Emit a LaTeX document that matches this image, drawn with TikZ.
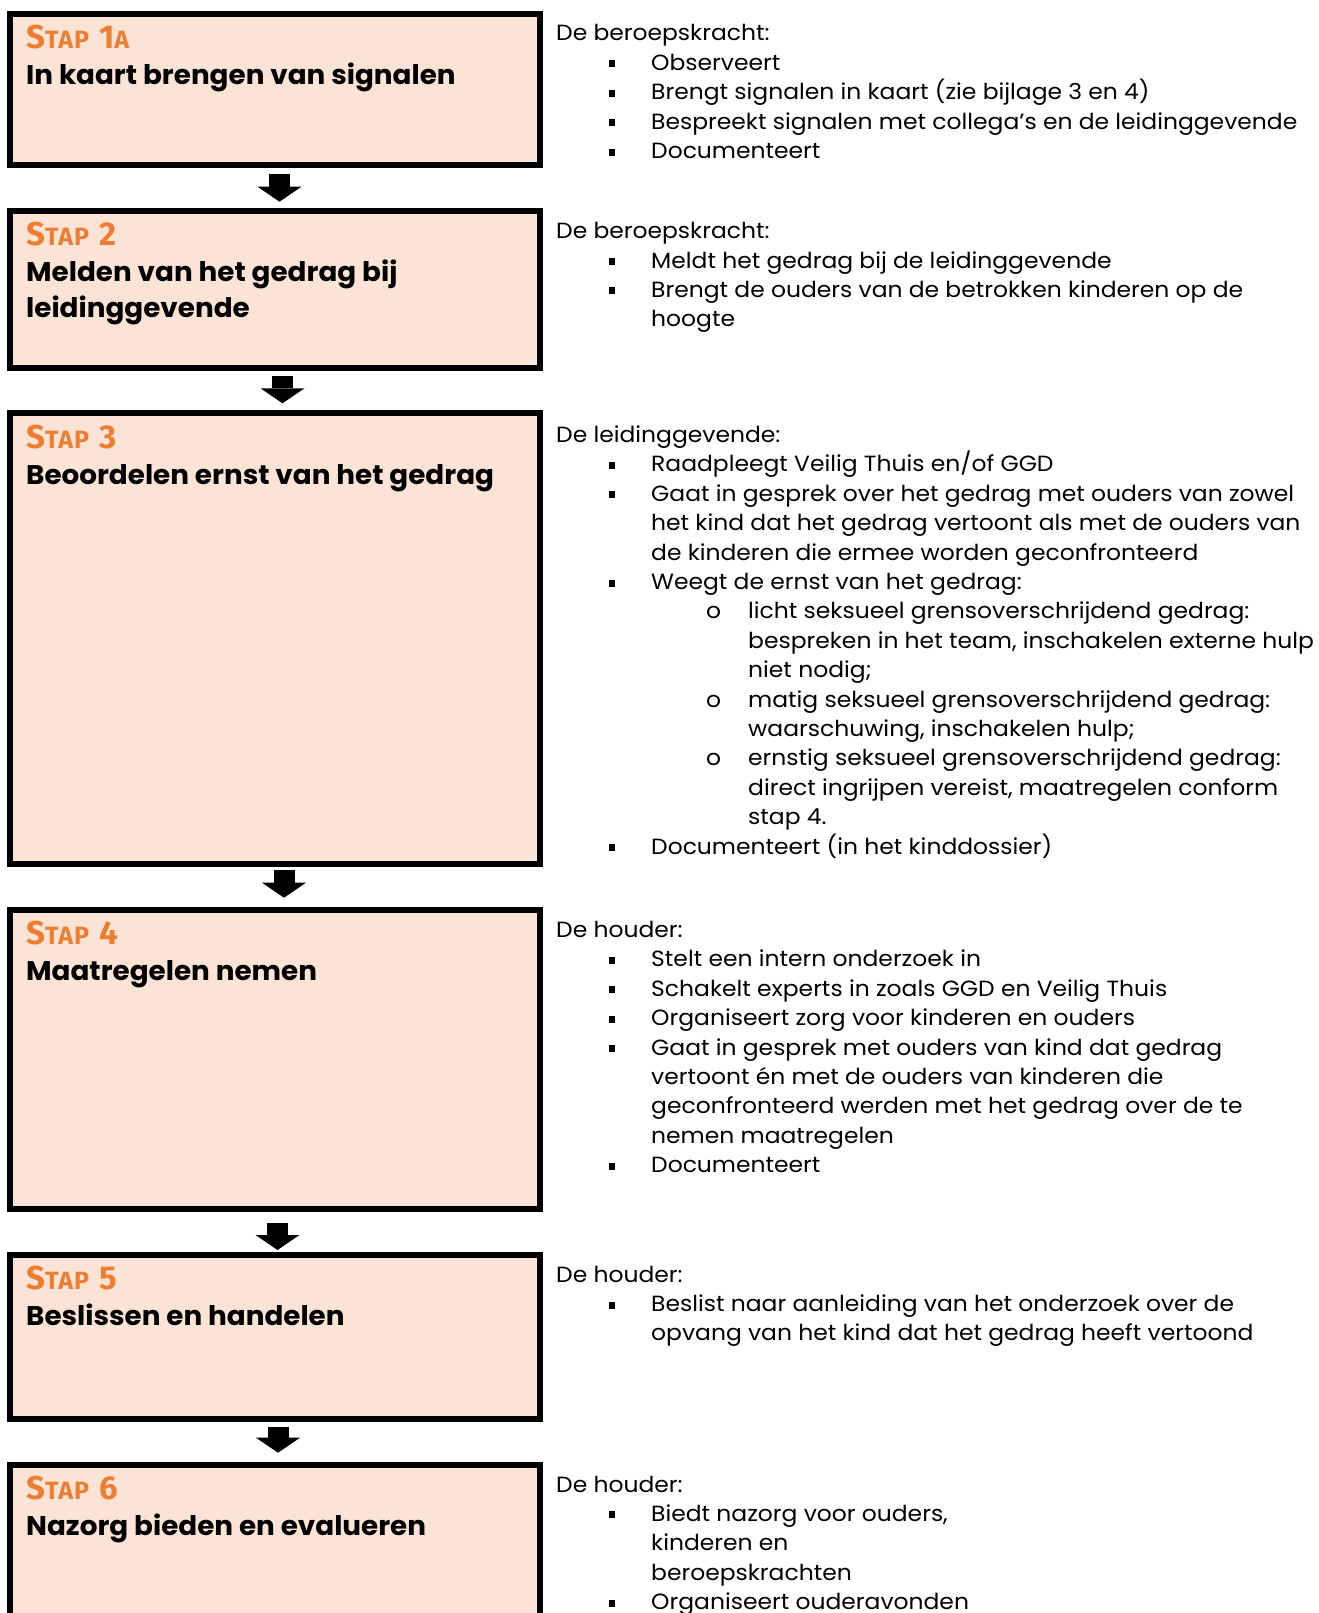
\documentclass[tikz,border=0pt]{standalone}
\usepackage{fontspec}
\setmainfont{Poppins}
\newfontfamily\stapfont{Fira Sans}[LetterSpace=4]
\newfontfamily\kolomfont{Poppins}[FakeStretch=1.065]
\newfontfamily\kopfont{Poppins}[FakeStretch=1.03]
\usetikzlibrary{arrows.meta}

\definecolor{staporanje}{RGB}{237,125,49}
\definecolor{stapvul}{RGB}{251,228,213}

% kapitalen voor de stapkoppen
\newcommand{\groot}[1]{{\fontsize{33}{33}\selectfont #1}}
\newcommand{\klein}[1]{{\fontsize{25}{33}\selectfont #1}}
\newcommand{\stap}[1]{\groot{S}\klein{TAP}\hspace{10pt}#1}
% opsomming rechts
\newcommand{\blt}{\hspace*{53pt}\makebox[42pt][l]{\rule[3pt]{6pt}{7pt}}}
\newcommand{\ver}{\hspace*{95pt}}
\newcommand{\subblt}{\hspace*{150pt}\makebox[42pt][l]{o}}
\newcommand{\subver}{\hspace*{192pt}}
\newcommand{\kolom}[1]{\begin{minipage}[t]{1000pt}\raggedright\kolomfont\fontsize{22}{29.4}\selectfont #1\end{minipage}}
\newcommand{\kop}[1]{\begin{minipage}[t]{505pt}\raggedright\kopfont\fontsize{27}{36}\selectfont\bfseries #1\end{minipage}}

\begin{document}
\begin{tikzpicture}[x=1pt,y=-1pt,
    stapbox/.style={draw,line width=6pt,fill=stapvul,minimum width=529.7pt,inner sep=0pt,outer sep=0pt},
    stapkop/.style={anchor=base west,inner sep=0pt,text=staporanje,font=\stapfont\bfseries\fontsize{25}{33}\selectfont},
    titel/.style={anchor=base west,inner sep=0pt},
    uitleg/.style={anchor=base west,inner sep=0pt},
    pijl/.style={line width=21pt,-{Triangle[width=44pt,length=15pt,line width=0pt]}}]
    \useasboundingbox (0,0) rectangle (1318,1613);

    % stap 1a
    \node [stapbox,minimum height=151.6pt] (s1) at (274.85,89.5) {};
    \node [stapkop] (k1) at (26,48.5) {\stap{\groot{1}\klein{A}}};
    \node [titel] (t1) at (26,84.5) {\kop{In kaart brengen van signalen}};
    \node [uitleg] (u1) at (556,41) {\kolom{De beroepskracht:\\
        \blt Observeert\\
        \blt Brengt signalen in kaart (zie bijlage 3 en 4)\\
        \blt Bespreekt signalen met collega’s en de leidinggevende\\
        \blt Documenteert}};

    % stap 2
    \node [stapbox,minimum height=157.3pt] (s2) at (274.85,289.35) {};
    \node [stapkop] (k2) at (26,245.5) {\stap{\groot{2}}};
    \node [titel] (t2) at (26,281.5) {\kop{Melden van het gedrag bij\\leidinggevende}};
    \node [uitleg] (u2) at (556,238.7) {\kolom{De beroepskracht:\\
        \blt Meldt het gedrag bij de leidinggevende\\
        \blt Brengt de ouders van de betrokken kinderen op de\\
        \ver hoogte}};
    \draw [pijl] ([xshift=4.65pt,yshift=-9pt]s1.south) -- ([xshift=4.65pt,yshift=9pt]s2.north);

    % stap 3
    \node [stapbox,minimum height=450.8pt] (s3) at (274.85,638.4) {};
    \node [stapkop] (k3) at (26,448) {\stap{\groot{3}}};
    \node [titel] (t3) at (26,484) {\kop{Beoordelen ernst van het gedrag}};
    \node [uitleg] (u3) at (556,442.5) {\kolom{De leidinggevende:\\
        \blt Raadpleegt Veilig Thuis en/of GGD\\
        \blt Gaat in gesprek over het gedrag met ouders van zowel\\
        \ver het kind dat het gedrag vertoont als met de ouders van\\
        \ver de kinderen die ermee worden geconfronteerd\\
        \blt Weegt de ernst van het gedrag:\\
        \subblt licht seksueel grensoverschrijdend gedrag:\\
        \subver bespreken in het team, inschakelen externe hulp\\
        \subver niet nodig;\\
        \subblt matig seksueel grensoverschrijdend gedrag:\\
        \subver waarschuwing, inschakelen hulp;\\
        \subblt ernstig seksueel grensoverschrijdend gedrag:\\
        \subver direct ingrijpen vereist, maatregelen conform\\
        \subver stap 4.\\
        \blt Documenteert (in het kinddossier)}};
    \draw [pijl] ([xshift=7.65pt,yshift=-7.7pt]s2.south) -- ([xshift=7.65pt,yshift=9.7pt]s3.north);

    % stap 4
    \node [stapbox,minimum height=298.8pt] (s4) at (274.85,1059.1) {};
    \node [stapkop] (k4) at (26,944.7) {\stap{\groot{4}}};
    \node [titel] (t4) at (26,980.7) {\kop{Maatregelen nemen}};
    \node [uitleg] (u4) at (556,937.4) {\kolom{De houder:\\
        \blt Stelt een intern onderzoek in\\
        \blt Schakelt experts in zoals GGD en Veilig Thuis\\
        \blt Organiseert zorg voor kinderen en ouders\\
        \blt Gaat in gesprek met ouders van kind dat gedrag\\
        \ver vertoont én met de ouders van kinderen die\\
        \ver geconfronteerd werden met het gedrag over de te\\
        \ver nemen maatregelen\\
        \blt Documenteert}};
    \draw [pijl] ([xshift=9.15pt,yshift=-6.2pt]s3.south) -- ([xshift=9.15pt,yshift=12pt]s4.north);

    % stap 5
    \node [stapbox,minimum height=164.5pt] (s5) at (274.85,1336.95) {};
    \node [stapkop] (k5) at (26,1289.7) {\stap{\groot{5}}};
    \node [titel] (t5) at (26,1325.7) {\kop{Beslissen en handelen}};
    \node [uitleg] (u5) at (556,1282.1) {\kolom{De houder:\\
        \blt Beslist naar aanleiding van het onderzoek over de\\
        \ver opvang van het kind dat het gedrag heeft vertoond}};
    \draw [pijl] ([xshift=2.65pt,yshift=-14.2pt]s4.south) -- ([xshift=2.65pt,yshift=4.7pt]s5.north);

    % stap 6
    \node [stapbox,minimum height=195.3pt] (s6) at (274.85,1562.35) {};
    \node [stapkop] (k6) at (26,1499.7) {\stap{\groot{6}}};
    \node [titel] (t6) at (26,1535.7) {\kop{Nazorg bieden en evalueren}};
    \node [uitleg] (u6) at (556,1492) {\kolom{De houder:\\
        \blt Biedt nazorg voor ouders,\\
        \ver kinderen en\\
        \ver beroepskrachten\\
        \blt Organiseert ouderavonden}};
    \draw [pijl] ([xshift=3.15pt,yshift=-7.5pt]s5.south) -- ([xshift=3.15pt,yshift=12pt]s6.north);
\end{tikzpicture}
\end{document}
